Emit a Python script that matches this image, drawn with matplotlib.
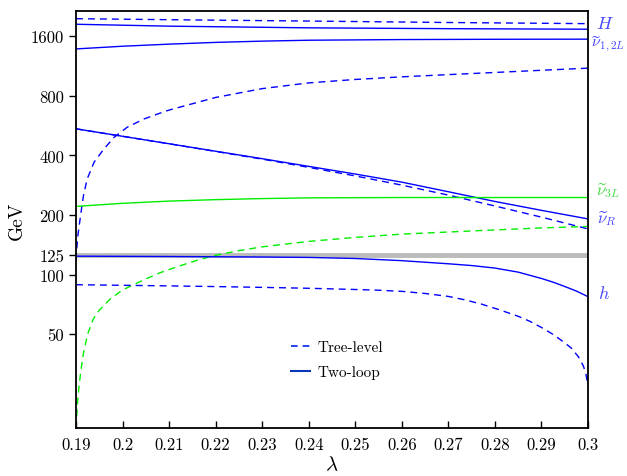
import numpy as np
import matplotlib
matplotlib.use("Agg")
import matplotlib.pyplot as plt

plt.rcParams['mathtext.fontset'] = 'cm'
plt.rcParams['font.family'] = 'serif'
plt.rcParams['font.serif'] = ['cmr10', 'DejaVu Serif']
plt.rcParams['axes.formatter.use_mathtext'] = True

# --- データ ---
# H（重いヒッグス）
H_x = [0.19, 0.215, 0.24, 0.27, 0.30]
H_tree = [1963, 1935, 1910, 1878, 1853]
H2_x = [0.19, 0.21, 0.24, 0.27, 0.30]
H_loop = [1840, 1800, 1765, 1748, 1737]

# ν~_{1,2L}（2ループ）
nu12_x = [0.19, 0.20, 0.21, 0.22, 0.23, 0.24, 0.26, 0.28, 0.30]
nu12_loop = [1381, 1425, 1460, 1490, 1512, 1528, 1540, 1545, 1547]

# 上昇する青破線（ツリーレベル）
rise_x = [0.19, 0.19015, 0.1904, 0.1910, 0.1916, 0.1924, 0.1939, 0.1960, 0.1982,
          0.2010, 0.2046, 0.2086, 0.21, 0.22, 0.23, 0.24, 0.25, 0.26, 0.27, 0.28, 0.29, 0.30]
rise_tree = [118, 134, 157, 200, 250, 304, 370, 431, 494,
             555, 611, 661, 678, 785, 870, 930, 968, 998, 1024, 1050, 1077, 1104]

# ν~_R
nuR_x = [0.19, 0.21, 0.23, 0.24, 0.25, 0.26, 0.27, 0.28, 0.29, 0.30]
nuR_loop = [545, 458, 385, 352, 322, 293, 262, 234, 211, 191]
nuR_tree = [545, 458, 383, 348, 315, 283, 252, 222, 195, 170]

# ν~_{3L}
nu3_x = [0.19, 0.20, 0.21, 0.22, 0.23, 0.24, 0.26, 0.28, 0.30]
nu3_loop = [221, 229, 235, 239, 242, 244, 245, 245, 245]
nu3t_x = [0.1900, 0.1903, 0.1906, 0.1910, 0.1916, 0.1925, 0.1937, 0.1950, 0.1973, 0.2000,
          0.2022, 0.2050, 0.2080, 0.2120, 0.2160, 0.2200, 0.2250, 0.2300, 0.2400, 0.2500,
          0.2600, 0.2700, 0.2800, 0.2900, 0.3000]
nu3_tree = [16.7, 22, 26.5, 32, 40, 50, 59.5, 66, 75, 83.5,
            88.5, 95, 102, 110, 118, 125, 132, 138, 147, 154,
            160, 164, 168, 172, 175]

# h（軽いヒッグス）
h_x = [0.19, 0.21, 0.23, 0.24, 0.25, 0.26, 0.27, 0.275, 0.28, 0.285, 0.29,
       0.2925, 0.295, 0.2975, 0.30]
h_loop = [123.8, 123.3, 122.6, 122.0, 120.5, 117.5, 113.3, 111.0, 107.8, 102.8, 95.5,
          91.5, 87.0, 82.5, 77.3]
ht_x = [0.19, 0.20, 0.21, 0.22, 0.23, 0.24, 0.25, 0.255, 0.26, 0.265, 0.27, 0.2735,
        0.277, 0.281, 0.285, 0.2875, 0.29, 0.2925, 0.295, 0.2965, 0.298, 0.299, 0.2995, 0.30]
h_tree = [88.8, 88.2, 87.6, 86.9, 86.1, 85.2, 84.0, 83.3, 82.2, 80.2, 77.5, 74.5,
          71.0, 66.3, 61.5, 58.0, 54.0, 49.8, 45.2, 42.3, 38.2, 34.5, 31.8, 27.5]

m_higgs = 125
yticks = [50, 100, 125, 200, 400, 800, 1600]
xticks = [0.19, 0.2, 0.21, 0.22, 0.23, 0.24, 0.25, 0.26, 0.27, 0.28, 0.29, 0.3]
xticklabels = ['0.19', '0.2', '0.21', '0.22', '0.23', '0.24', '0.25', '0.26',
               '0.27', '0.28', '0.29', '0.3']

# --- 描画 ---
blue = '#0000ff'
green = '#00ee00'
lw = 1.0
dash = (5, 3.6)

fig = plt.figure(figsize=(6.27, 4.77), dpi=100)
ax = fig.add_axes([0.1212, 0.100, 0.8166, 0.8755])

ax.axhline(m_higgs, color='#bbbbbb', lw=3.5, zorder=1)

ax.plot(H_x, H_tree, color=blue, lw=lw, dashes=dash)
ax.plot(H2_x, H_loop, color=blue, lw=lw)
ax.plot(nu12_x, nu12_loop, color=blue, lw=lw)
ax.plot(rise_x, rise_tree, color=blue, lw=lw, dashes=dash)
ax.plot(nuR_x, nuR_tree, color=blue, lw=lw, dashes=dash)
ax.plot(nuR_x, nuR_loop, color=blue, lw=lw)
ax.plot(nu3_x, nu3_loop, color=green, lw=lw)
ax.plot(nu3t_x, nu3_tree, color=green, lw=lw, dashes=dash)
ax.plot(h_x, h_loop, color=blue, lw=lw)
ax.plot(ht_x, h_tree, color=blue, lw=lw, dashes=dash)

ax.set_yscale('log')
ax.set_xlim(0.19, 0.3)
ax.set_ylim(16.7, 2155)
ax.yaxis.set_minor_locator(matplotlib.ticker.NullLocator())
ax.set_yticks(yticks)
ax.set_yticklabels([str(v) for v in yticks])
ax.set_xticks(xticks)
ax.set_xticklabels(xticklabels)
ax.tick_params(axis='y', direction='out', length=5, width=1, labelsize=12)
ax.tick_params(axis='x', direction='in', length=5, width=1, labelsize=12, pad=6)
for s in ax.spines.values():
    s.set_linewidth(1.3)

ax.set_xlabel(r'$\lambda$', fontsize=15, labelpad=2)
ax.set_ylabel('GeV', fontsize=14, labelpad=4)

# 右側のラベル
lab_blue = '#4848ff'
lab_green = '#44dd44'
ax.text(0.3017, 1870, r'$H$', color=lab_blue, fontsize=13, va='center', ha='left', clip_on=False)
ax.text(0.3006, 1478, r'$\widetilde{\nu}_{1,2L}$', color=lab_blue, fontsize=11.5, va='center', ha='left', clip_on=False)
ax.text(0.3017, 270, r'$\widetilde{\nu}_{3L}$', color=lab_green, fontsize=12, va='center', ha='left', clip_on=False)
ax.text(0.3019, 195, r'$\widetilde{\nu}_R$', color=lab_blue, fontsize=12, va='center', ha='left', clip_on=False)
ax.text(0.3021, 81, r'$h$', color=lab_blue, fontsize=13, va='center', ha='left', clip_on=False)

# 凡例
l1, = ax.plot([], [], color='#0022ee', lw=1.2, dashes=(4, 3))
l2, = ax.plot([], [], color='#0838b8', lw=1.5)
ax.legend([l1, l2], ['Tree-level', 'Two-loop'], loc='center left',
          bbox_to_anchor=(0.393, 0.164), frameon=False, fontsize=11,
          handlelength=1.25, handletextpad=0.5, labelspacing=0.7)

fig.savefig('out.png', dpi=100)
